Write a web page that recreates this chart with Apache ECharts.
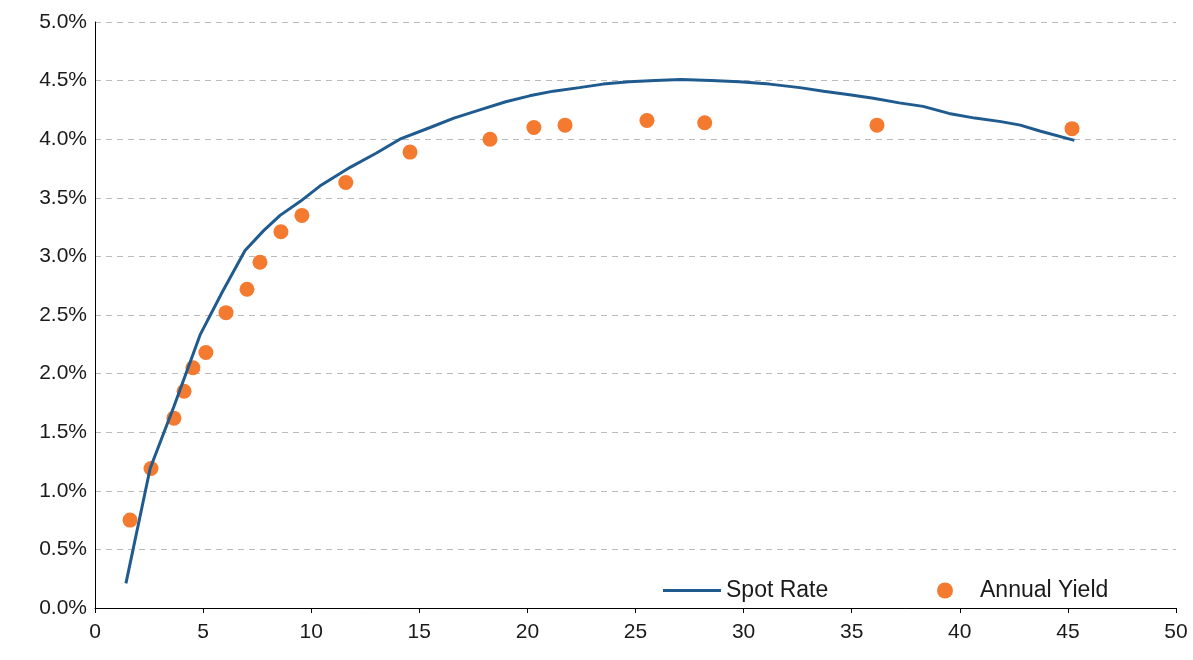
<!DOCTYPE html>
<html><head><meta charset="utf-8">
<script src="https://cdn.jsdelivr.net/npm/echarts@6/dist/echarts.min.js"></script>
<style>html,body{margin:0;background:#fff}#main{width:1193px;height:660px}</style>
</head><body><div id="main"></div>
<script>
// 即期利率曲线
var spotX = [1.43, 2.55, 3.65, 4.86, 5.9, 6.94, 7.8, 8.56, 9.5, 10.4, 11.8, 13.0, 14.1, 15.5, 16.6, 17.8, 19.0, 20.1, 21.2, 22.4, 23.5, 24.7, 25.9, 27.1, 28.5, 29.8, 31.2, 32.6, 33.7, 34.9, 36.0, 37.2, 38.3, 39.5, 40.7, 41.9, 42.8, 43.7, 45.3];
var spotY = [0.21, 1.19, 1.72, 2.33, 2.7, 3.05, 3.22, 3.35, 3.47, 3.6, 3.76, 3.88, 4.0, 4.1, 4.18, 4.25, 4.32, 4.37, 4.41, 4.44, 4.47, 4.49, 4.5, 4.51, 4.5, 4.49, 4.47, 4.44, 4.41, 4.38, 4.35, 4.31, 4.28, 4.22, 4.18, 4.15, 4.12, 4.07, 3.99];
// 年收益率散点
var yieldX = [1.62, 2.59, 3.65, 4.12, 4.53, 5.13, 6.06, 7.03, 7.63, 8.6, 9.57, 11.6, 14.57, 18.27, 20.3, 21.74, 25.53, 28.2, 36.17, 45.19];
var yieldY = [0.75, 1.19, 1.62, 1.85, 2.05, 2.18, 2.52, 2.72, 2.95, 3.21, 3.35, 3.63, 3.89, 4.0, 4.1, 4.12, 4.16, 4.14, 4.12, 4.09];

function pairs(xs, ys){
	var out = [];
	for (var i = 0; i < xs.length; i++) out.push([xs[i], ys[i]]);
	return out;
}

var myChart = echarts.init(document.getElementById('main'));
var font = 'Liberation Sans, Arial, sans-serif';
var legText = { fontFamily: font, fontSize: 23, color: '#1a1a1a' };
var option = {
	animation: false,
	grid: { left: 95, right: 17, top: 22, bottom: 52 },
	legend: [{
		left: 658, top: 574, itemWidth: 58, itemHeight: 3,
		textStyle: legText, data: [{ name: 'Spot Rate', icon: 'rect' }]
	}, {
		left: 932, top: 574, itemWidth: 16, itemHeight: 16,
		textStyle: { fontFamily: font, fontSize: 23, color: '#1a1a1a', padding: [0, 0, 0, 22] },
		data: [{ name: 'Annual Yield', icon: 'circle' }]
	}],
	xAxis: {
		type: 'value', min: 0, max: 50, interval: 5,
		axisLine: { lineStyle: { color: '#000' } },
		axisTick: { show: true, lineStyle: { color: '#000' } },
		splitLine: { show: false },
		axisLabel: { fontFamily: font, fontSize: 21, color: '#1a1a1a', margin: 14 }
	},
	yAxis: {
		type: 'value', min: 0, max: 5, interval: 0.5,
		axisLine: { show: true, lineStyle: { color: '#000' } },
		axisTick: { show: false },
		splitLine: { lineStyle: { color: '#bbb', type: [6, 5] } },
		axisLabel: { fontFamily: font, fontSize: 21, color: '#1a1a1a', formatter: function(v){ return v.toFixed(1) + '%'; } }
	},
	series: [{
		name: 'Spot Rate', type: 'line', smooth: false, symbol: 'none',
		lineStyle: { color: '#1f5b8e', width: 3 }, itemStyle: { color: '#1f5b8e' },
		data: pairs(spotX, spotY)
	}, {
		name: 'Annual Yield', type: 'scatter', symbolSize: 15,
		itemStyle: { color: '#f47a30', opacity: 1 },
		data: pairs(yieldX, yieldY)
	}]
};
myChart.setOption(option);
</script></body></html>
